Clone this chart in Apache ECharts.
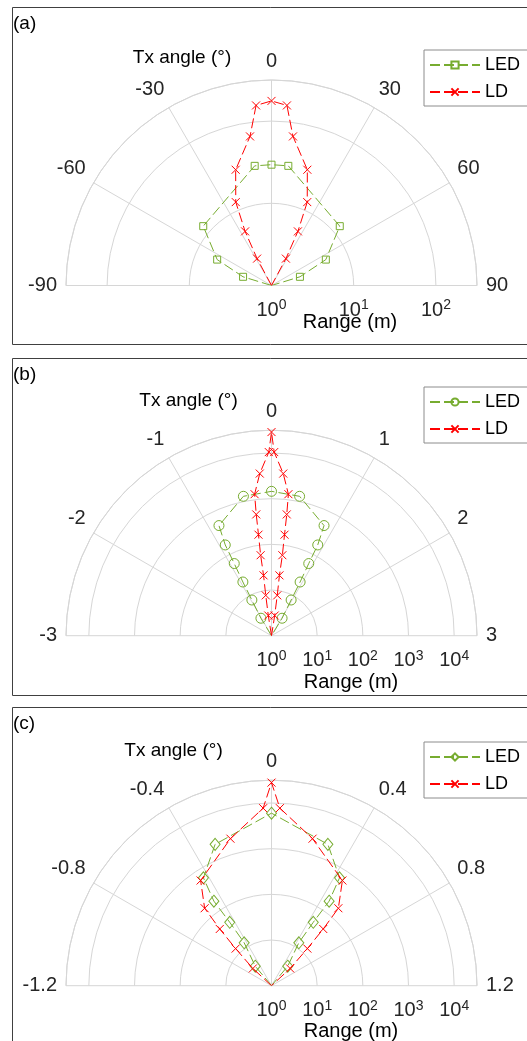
<!DOCTYPE html>
<html>
<head>
<meta charset="utf-8">
<script src="https://cdn.jsdelivr.net/npm/echarts@6/dist/echarts.min.js"></script>
<style>
  html, body { margin: 0; padding: 0; background: #fff; }
  #main { width: 527px; height: 1041px; }
</style>
</head>
<body>
<div id="main"></div>
<script>
// (a) Tx angle in degrees, range in m
var ledA_theta = [-90, -73, -64.5, -49, -8, 0, 8, 49, 64.5, 73, 90];
var ledA_range = [1, 2.3, 5.4, 12.6, 29.5, 29.5, 29.5, 12.6, 5.4, 2.3, 1];
var ldA_theta = [-30, -28.2, -26, -23.2, -17.2, -8.2, -4.9, 0, 4.9, 8.2, 17.2, 23.2, 26, 28.2, 30];
var ldA_range = [1, 2.35, 5.4, 12.7, 29.8, 68, 158, 176, 158, 68, 29.8, 12.7, 5.4, 2.35, 1];

// (b)
var ledB_theta = [-1.1, -1.04, -0.96, -0.935, -0.91, -0.9, -0.85, -0.38, 0, 0.38, 0.85, 0.9, 0.91, 0.935, 0.96, 1.04, 1.1];
var ledB_range = [1, 2.8, 7.8, 21.5, 60, 170, 470, 1300, 1450, 1300, 470, 170, 60, 21.5, 7.8, 2.8, 1];
var ldB_theta = [-0.32, -0.3, -0.27, -0.25, -0.256, -0.245, -0.239, -0.227, -0.138, -0.028, 0, 0.028, 0.138, 0.227, 0.239, 0.245, 0.256, 0.25, 0.27, 0.3, 0.32];
var ldB_range = [1, 2.8, 7.8, 21.5, 60, 170, 475, 1320, 3630, 10500, 28800, 10500, 3630, 1320, 475, 170, 60, 21.5, 7.8, 2.8, 1];

// (c)
var ledC_theta = [-0.6, -0.53, -0.433, -0.445, -0.457, -0.43, -0.29, 0, 0.29, 0.43, 0.457, 0.445, 0.433, 0.53, 0.6];
var ledC_range = [1, 3.6, 13, 46, 174, 620, 2150, 6000, 2150, 620, 174, 46, 13, 3.6, 1];
var ldC_theta = [-0.7, -0.63, -0.587, -0.565, -0.544, -0.453, -0.208, -0.036, 0, 0.036, 0.208, 0.453, 0.544, 0.565, 0.587, 0.63, 0.7];
var ldC_range = [1, 3.6, 13.5, 48, 174, 600, 2200, 7800, 28000, 7800, 2200, 600, 174, 48, 13.5, 3.6, 1];

var angleTicks = [[-90, 90, 30], [-3, 3, 1], [-1.2, 1.2, 0.4]];
var rangeMaxExp = [2.5, 4.5, 4.5];
var panelLabels = ['(a)', '(b)', '(c)'];

var FONT = '"Liberation Sans", Arial, Helvetica, sans-serif';
var GREEN = '#77ac30', RED = '#ff0000', GRID = '#d6d6d6', TXT = '#262626';
var CX = 271.5, R = 205.5;
var cys = [285.5, 635.7, 985.7];
var boxTops = [7, 358, 707];
var boxH = [337, 337, 400];
var txPos = [[182, 57.5], [188.5, 400.5], [173.5, 751]];
var rangeX = [350, 351, 351];
var rangeY = [322.5, 682.5, 1031.5];
var legendTops = [50, 387, 742];

var crossPath = 'path://M0,0L10,10M10,0L0,10';
var ledSym = ['rect', 'circle', 'diamond'];
var ledSymSize = [7, 10, [10, 12]];

function pts(range, theta) {
  return range.map(function (r, i) {
    var item = { value: [r, theta[i]] };
    if (r === 1) item.symbol = 'none';
    return item;
  });
}

var ledSets = [[ledA_range, ledA_theta], [ledB_range, ledB_theta], [ledC_range, ledC_theta]];
var ldSets = [[ldA_range, ldA_theta], [ldB_range, ldB_theta], [ldC_range, ldC_theta]];

var polar = [], angleAxis = [], radiusAxis = [], series = [], legend = [];
var grid = [], xAxis = [], yAxis = [], graphic = [];

function supLabel(v) {
  var e = Math.log10(v);
  if (Math.abs(e - Math.round(e)) > 1e-6) return '';
  return '{b|10}{s|' + Math.round(e) + '}';
}

for (var i = 0; i < 3; i++) {
  var rmax = Math.pow(10, rangeMaxExp[i]);
  polar.push({ center: [CX, cys[i]], radius: R });
  angleAxis.push({
    polarIndex: i, type: 'value',
    min: angleTicks[i][0], max: angleTicks[i][1], interval: angleTicks[i][2],
    startAngle: 180, endAngle: 0, clockwise: true,
    axisLine: { show: true, lineStyle: { color: GRID, width: 1 } },
    axisTick: { show: false },
    splitLine: { show: true, lineStyle: { color: GRID, width: 1 } },
    axisLabel: { color: TXT, fontSize: 20, fontFamily: FONT, margin: 9 }
  });
  radiusAxis.push({
    polarIndex: i, type: 'log', logBase: 10, min: 1, max: rmax,
    axisLine: { show: false }, axisTick: { show: false }, axisLabel: { show: false },
    splitLine: { show: true, lineStyle: { color: GRID, width: 1 } }
  });

  var nm = ' ' + panelLabels[i];
  series.push({
    name: 'LED' + nm, type: 'line', coordinateSystem: 'polar', polarIndex: i,
    data: pts(ledSets[i][0], ledSets[i][1]),
    symbol: ledSym[i], symbolSize: ledSymSize[i],
    itemStyle: { color: 'none', borderColor: GREEN, borderWidth: 1 },
    lineStyle: { color: GREEN, width: 1, type: [10, 4] },
    z: 3
  });
  series.push({
    name: 'LD' + nm, type: 'line', coordinateSystem: 'polar', polarIndex: i,
    data: pts(ldSets[i][0], ldSets[i][1]),
    symbol: crossPath, symbolSize: 8,
    itemStyle: { color: 'none', borderColor: RED, borderWidth: 1 },
    lineStyle: { color: RED, width: 1, type: [10, 4] },
    z: 4
  });

  legend.push({
    data: ['LED' + nm, 'LD' + nm],
    formatter: function (n) { return n.split(' ')[0]; },
    orient: 'vertical', left: 424, top: legendTops[i],
    itemWidth: 50, itemHeight: 9, itemGap: 9,
    padding: [6, 9, 5, 5],
    borderColor: '#8c8c8c', borderWidth: 1, backgroundColor: '#fff',
    textStyle: { fontSize: 18, lineHeight: 18, fontFamily: FONT, color: '#000' },
    selectedMode: false
  });

  // range tick labels along the right-hand radius
  grid.push({ left: CX, width: R, top: cys[i] - 1, height: 1 });
  xAxis.push({
    gridIndex: i, type: 'log', logBase: 10, min: 1, max: rmax, position: 'bottom',
    axisLine: { show: false }, axisTick: { show: false }, splitLine: { show: false },
    axisLabel: {
      margin: 13, interval: 0, hideOverlap: false, showMinLabel: true,
      formatter: supLabel,
      rich: {
        b: { fontSize: 20, lineHeight: 24, fontFamily: FONT, color: TXT },
        s: { fontSize: 14, lineHeight: 14, verticalAlign: 'top', fontFamily: FONT, color: TXT }
      }
    }
  });
  yAxis.push({ gridIndex: i, type: 'value', show: false });

  graphic.push({
    type: 'rect', shape: { x: 12.5, y: boxTops[i] + 0.5, width: 530, height: boxH[i] },
    style: { fill: 'none', stroke: '#404040', lineWidth: 1 }, z: 0
  });
  graphic.push({
    type: 'text', x: 13, y: boxTops[i] + 17,
    style: { text: panelLabels[i], fontSize: 19, fontFamily: FONT, fill: '#000', textVerticalAlign: 'middle' }
  });
  graphic.push({
    type: 'text', x: txPos[i][0], y: txPos[i][1],
    style: { text: 'Tx angle (°)', fontSize: 19, fontFamily: FONT, fill: '#000', textAlign: 'center', textVerticalAlign: 'middle' }
  });
  graphic.push({
    type: 'text', x: rangeX[i], y: rangeY[i],
    style: { text: 'Range (m)', fontSize: 20, fontFamily: FONT, fill: '#000', textAlign: 'center', textVerticalAlign: 'middle' }
  });
}

var chart = echarts.init(document.getElementById('main'));
chart.setOption({
  animation: false,
  backgroundColor: '#fff',
  polar: polar, angleAxis: angleAxis, radiusAxis: radiusAxis,
  grid: grid, xAxis: xAxis, yAxis: yAxis,
  legend: legend, series: series, graphic: graphic
});
</script>
</body>
</html>
